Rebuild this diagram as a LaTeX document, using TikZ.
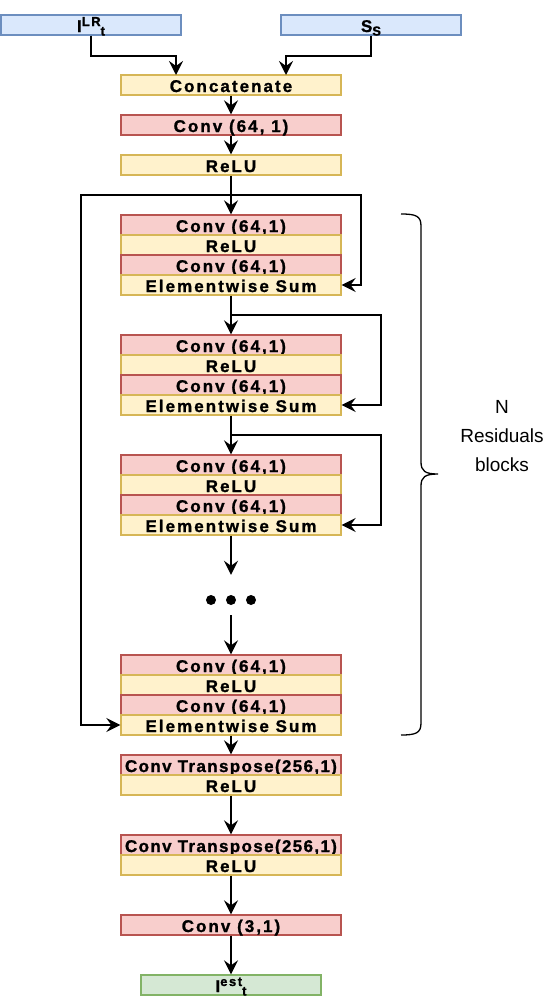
\documentclass[tikz,border=0pt]{standalone}
\usepackage{fontspec}
\setmainfont{Liberation Sans}
\newfontfamily\layerfont[LetterSpace=12, BoldFeatures={FakeBold=1.2}]{Liberation Sans}
\newfontfamily\tightfont[LetterSpace=8, BoldFeatures={FakeBold=1.2}]{Liberation Sans}
\usetikzlibrary{arrows.meta}

\definecolor{convfill}{HTML}{F8CECC}
\definecolor{convline}{HTML}{B85450}
\definecolor{relufill}{HTML}{FFF2CC}
\definecolor{reluline}{HTML}{D6B656}
\definecolor{infill}{HTML}{DAE8FC}
\definecolor{inline}{HTML}{6C8EBF}
\definecolor{outfill}{HTML}{D5E8D4}
\definecolor{outline}{HTML}{82B366}

\newcommand{\hiscript}[1]{\raisebox{6pt}{\fontsize{13}{13}\selectfont #1}}
\newcommand{\loscript}[1]{\raisebox{-3.5pt}{\fontsize{13}{13}\selectfont #1}}

\tikzset{
  layer/.style={draw, line width=1.3pt, minimum width=220pt, minimum height=20pt,
    inner sep=0pt, text height=14pt, text depth=0pt,
    font=\layerfont\bfseries\fontsize{17}{17}\selectfont},
  convbox/.style={layer, fill=convfill, draw=convline},
  widebox/.style={convbox, font=\tightfont\bfseries\fontsize{17}{17}\selectfont},
  relubox/.style={layer, fill=relufill, draw=reluline},
  inbox/.style={layer, minimum width=180pt, fill=infill, draw=inline},
  outbox/.style={layer, minimum width=180pt, fill=outfill, draw=outline},
  arr/.style={line width=2pt, -{Stealth[length=14pt,width=14pt,inset=5pt]}},
}

\begin{document}
\begin{tikzpicture}[x=1pt, y=-1pt]

  % Pixel grid of the figure, y downward:
  %  inputs      : 15 - 35
  %  Concatenate : 75 - 95, Conv 115 - 135, ReLU 155 - 175
  %  block 1     : 215 - 295 (skip split at 195)
  %  block 2     : 335 - 415 (skip split at 315)
  %  block 3     : 455 - 535 (skip split at 435)
  %  dots        : 575 - 615
  %  block 4     : 655 - 735
  %  tail        : 755 - 795, 835 - 875, 915 - 935, output 975 - 995
  \useasboundingbox (0,0) rectangle (548,1002);

  % Inputs
  \node[inbox] (inLR) at (91,25) {I\hiscript{LR}\loscript{t}};
  \node[inbox] (inS)  at (371,25) {S\loscript{S}};

  % Head
  \node[relubox] (concat) at (231,85)  {Concatenate};
  \node[convbox] (conv0)  at (231,125) {Conv (64, 1)};
  \node[relubox] (relu0)  at (231,165) {ReLU};

  % Residual blocks
  \foreach \b/\y in {1/215, 2/335, 3/455, 4/655} {
    \node[convbox] (c1-\b)  at (231,\y+10) {Conv (64,1)};
    \node[relubox] (r-\b)   at (231,\y+30) {ReLU};
    \node[convbox] (c2-\b)  at (231,\y+50) {Conv (64,1)};
    \node[relubox] (sum-\b) at (231,\y+70) {Elementwise Sum};
  }

  \node[minimum width=50pt, minimum height=40pt] (dots) at (231,595) {};
  \foreach \x in {211, 231, 251} {
    \fill (\x,600) circle (5pt);
  }

  % Tail
  \node[widebox] (ct1)   at (231,765) {Conv Transpose(256,1)};
  \node[relubox] (ct1r)  at (231,785) {ReLU};
  \node[widebox] (ct2)   at (231,845) {Conv Transpose(256,1)};
  \node[relubox] (ct2r)  at (231,865) {ReLU};
  \node[convbox] (conv3) at (231,925) {Conv (3,1)};
  \node[outbox]  (out)   at (231,985) {I\hiscript{est}\loscript{t}};

  % Connectors
  \coordinate (toLR) at (176,75);
  \coordinate (toS)  at (286,75);
  \draw[arr] (inLR.south) -- ++(0,20) -| (toLR);
  \draw[arr] (inS.south)  -- ++(0,20) -| (toS);
  \draw[arr] (concat) -- (conv0);
  \draw[arr] (conv0) -- (relu0);
  \draw[arr] (relu0) -- (c1-1);

  \coordinate (split0) at (231,195);
  \coordinate (sk1) at (361,195);
  \coordinate (sk0) at (81,195);
  \draw[arr] (split0) -- (sk1) |- (sum-1);
  \draw[arr] (split0) -- (sk0) |- (sum-4);

  \coordinate (split1) at (231,315);
  \coordinate (sk2) at (381,315);
  \draw[arr] (sum-1) -- (c1-2);
  \draw[arr] (split1) -- (sk2) |- (sum-2);

  \coordinate (split2) at (231,435);
  \coordinate (sk3) at (381,435);
  \draw[arr] (sum-2) -- (c1-3);
  \draw[arr] (split2) -- (sk3) |- (sum-3);

  \draw[arr] (sum-3) -- (dots);
  \draw[arr] (dots) -- (c1-4);
  \draw[arr] (sum-4) -- (ct1);
  \draw[arr] (ct1r) -- (ct2);
  \draw[arr] (ct2r) -- (conv3);
  \draw[arr] (conv3) -- (out);

  % Brace and its label
  \draw[line width=1.3pt] (401,214) .. controls (416,214) and (421,216) .. (421,226)
    -- (421,462) .. controls (421,471) and (425,474) .. (438,474)
    .. controls (425,474) and (421,477) .. (421,486)
    -- (421,723) .. controls (421,733) and (416,735) .. (401,735);
  \node[align=center, font=\fontsize{19}{29}\selectfont] (nres) at (502,436) {N\\Residuals\\blocks};

\end{tikzpicture}
\end{document}
